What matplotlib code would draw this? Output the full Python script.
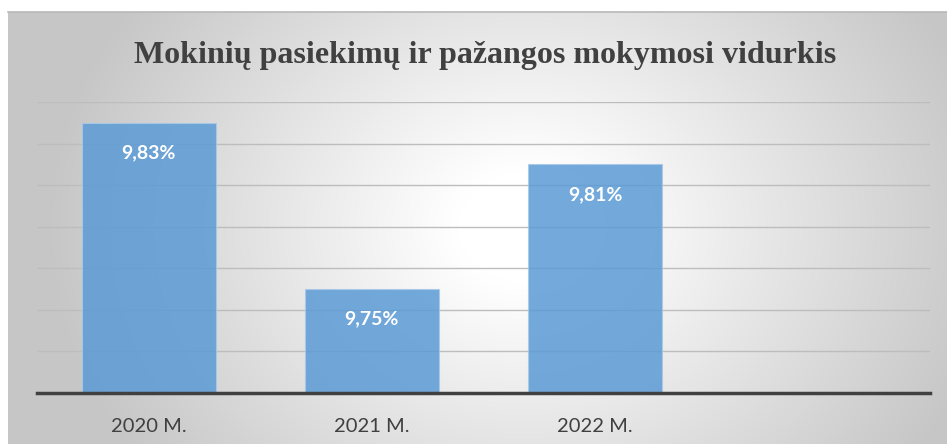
import numpy as np
import matplotlib
matplotlib.use("Agg")
import matplotlib.pyplot as plt

categories = ["2020 M.", "2021 M.", "2022 M."]
values = [9.83, 9.75, 9.81]
value_labels = ["9,83%", "9,75%", "9,81%"]
title = "Mokinių pasiekimų ir pažangos mokymosi vidurkis"

W, H = 947, 444
fig = plt.figure(figsize=(W / 100, H / 100), dpi=100)
fig.patch.set_facecolor("white")

# background panel with radial gradient
bx0, by0 = 8, 12
bg = fig.add_axes([bx0 / W, 0, 1 - bx0 / W, 1 - by0 / H], zorder=0)
bg.set_axis_off()
nx, ny = 400, 200
xs = np.linspace(0, 1, nx)
ys = np.linspace(0, 1, ny)
X, Y = np.meshgrid(xs, ys)
cx, cy = 0.55, 0.5
R = np.sqrt(((X - cx) / 0.72) ** 2 + ((Y - cy) / 1.3) ** 2)
t = np.clip((R - 0.1) / 0.6, 0, 1)
lo, hi = 1.0, 0.78
img = hi + (lo - hi) * (1 - t)
bg.imshow(np.dstack([img, img, img]), extent=[0, 1, 0, 1], aspect="auto",
          origin="upper", interpolation="bilinear")
bg.set_xlim(0, 1)
bg.set_ylim(0, 1)
bg.plot([0, 1], [1, 1], color="#b8b8b8", lw=1.2, clip_on=False)

# main axes
left, right = 37, 930
top, bottom = 102, 393
ax = fig.add_axes([left / W, (H - bottom) / H, (right - left) / W, (bottom - top) / H], zorder=1)
ax.patch.set_alpha(0)
x = np.arange(len(categories))
ax.set_xlim(-0.5, 3.5)
ax.set_ylim(9.70, 9.84)
ax.set_yticks(np.arange(9.72, 9.845, 0.02))
ax.yaxis.grid(True, color="#bdbdbd", lw=1.0)
ax.set_axisbelow(True)
ax.tick_params(axis="y", left=False, labelleft=False)
for s in ["top", "right", "left"]:
    ax.spines[s].set_visible(False)
ax.spines["bottom"].set_color("#404040")
ax.spines["bottom"].set_linewidth(2.5)

ax.bar(x, [v - 9.70 for v in values], bottom=9.70, width=0.6,
       color="#5b9bd5", alpha=0.85, edgecolor="#a9c9ea", linewidth=0.8, zorder=2)
for xi, v, lab in zip(x, values, value_labels):
    ax.annotate(lab, (xi, v), xytext=(0, -30), textcoords="offset pixels",
                ha="center", va="center", color="white", fontsize=14,
                fontweight="bold", family="Lato", zorder=3)

ax.set_xticks(x)
ax.set_xticklabels(categories, fontsize=14.5, color="#404040", family="Lato")
ax.tick_params(axis="x", length=0, pad=18)

fig.text(485 / W, 1 - 56 / H, title, ha="center", va="center", fontsize=23,
         fontweight="bold", family="Liberation Serif", color="#404040")

fig.savefig("out.png", dpi=100, facecolor="white")
